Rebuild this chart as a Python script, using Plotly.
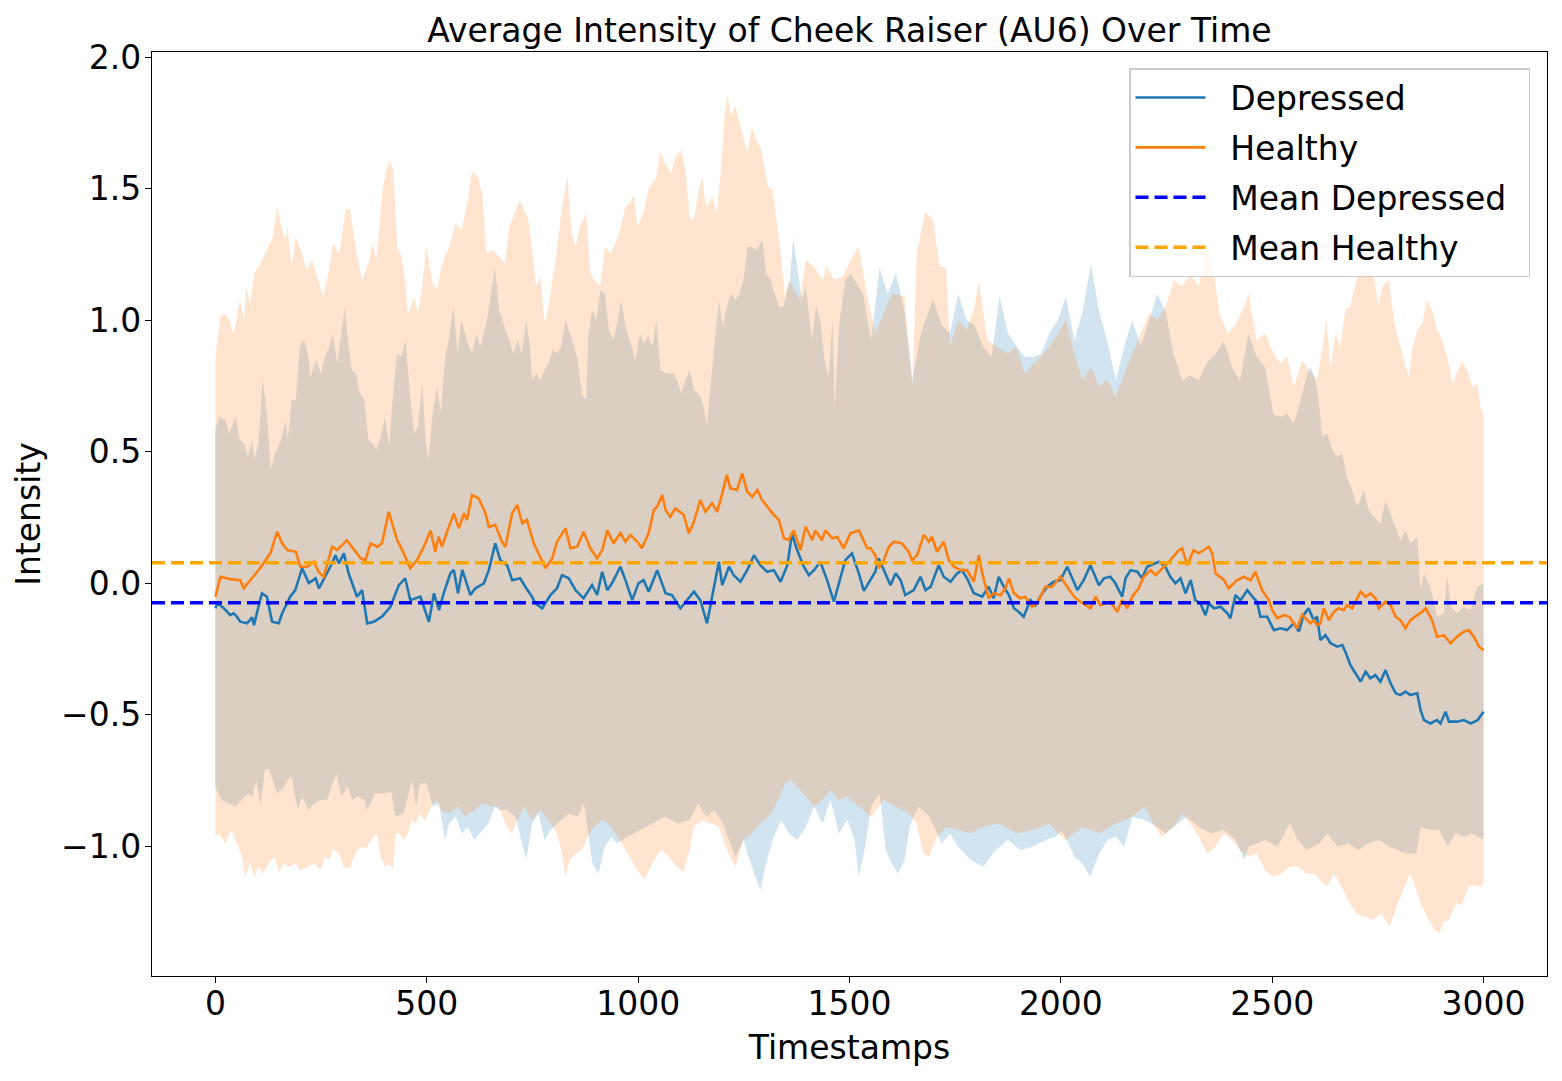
import plotly.graph_objects as go

# ---------------- data ----------------
dep_t = [0,5,20,35,43,51,59,75,87,91,110,122,134,150,158,177,189,205,221,237,245,264,276,284,292,304,315,335,347,359,375,394,414,434,449,461,485,493,505,517,529,540,556,564,574,584,603,615,635,647,662,674,690,702,721,733,749,757,773,793,808,820,836,852,871,891,903,915,927,938,958,970,986,1001,1013,1025,1037,1045,1065,1080,1100,1116,1132,1147,1163,1175,1191,1199,1215,1226,1242,1258,1274,1289,1305,1321,1337,1353,1364,1376,1392,1404,1416,1431,1447,1463,1475,1490,1506,1522,1534,1546,1561,1569,1585,1597,1609,1621,1632,1652,1668,1680,1692,1711,1723,1739,1755,1766,1778,1794,1814,1829,1841,1853,1865,1877,1889,1900,1912,1928,1940,1956,1968,1983,1999,2015,2027,2039,2054,2070,2090,2102,2117,2129,2145,2153,2165,2181,2192,2204,2232,2247,2259,2271,2283,2295,2307,2318,2330,2342,2350,2362,2378,2394,2401,2413,2425,2441,2453,2464,2472,2488,2504,2520,2535,2551,2563,2574,2586,2598,2606,2614,2626,2638,2654,2666,2673,2685,2697,2709,2721,2732,2744,2756,2768,2780,2792,2803,2815,2827,2843,2851,2859,2874,2890,2898,2910,2918,2937,2953,2970,2986,3000]
dep_mean = [-0.096,-0.077,-0.096,-0.122,-0.115,-0.128,-0.147,-0.153,-0.13,-0.16,-0.039,-0.052,-0.147,-0.153,-0.115,-0.052,-0.027,0.056,0.0,0.018,-0.02,0.038,0.075,0.106,0.075,0.113,0.037,-0.052,-0.027,-0.153,-0.147,-0.128,-0.09,-0.008,0.018,-0.065,-0.052,-0.09,-0.147,-0.039,-0.103,-0.039,0.037,0.05,-0.039,0.05,-0.045,-0.02,-0.001,0.05,0.151,0.087,0.068,0.011,0.018,-0.014,-0.052,-0.077,-0.096,-0.045,-0.02,0.03,0.018,-0.027,-0.058,-0.008,-0.045,0.043,-0.027,-0.001,0.062,0.011,-0.065,0.0,0.011,-0.033,0.018,0.049,-0.039,-0.046,-0.096,-0.065,-0.033,-0.065,-0.153,-0.052,0.081,-0.008,0.062,0.03,0.005,0.049,0.106,0.068,0.043,0.049,0.005,0.068,0.189,0.125,0.062,0.03,0.049,0.081,0.011,-0.071,-0.001,0.087,0.113,0.037,-0.03,0.005,0.043,0.094,0.037,-0.008,0.037,0.011,-0.046,-0.027,0.024,-0.027,-0.014,0.068,0.024,0.005,0.037,0.049,0.018,-0.039,-0.052,-0.014,-0.058,0.024,-0.014,-0.046,-0.096,-0.109,-0.128,-0.065,-0.084,-0.039,-0.014,0.005,0.011,0.062,0.018,-0.027,0.011,0.068,-0.008,0.018,0.024,-0.001,-0.052,0.018,0.049,0.043,0.018,0.062,0.081,0.062,0.024,-0.001,0.018,-0.039,0.011,-0.065,-0.077,-0.122,-0.077,-0.096,-0.09,-0.115,-0.134,-0.046,-0.065,-0.027,-0.052,-0.071,-0.128,-0.128,-0.179,-0.172,-0.179,-0.153,-0.185,-0.122,-0.096,-0.141,-0.128,-0.217,-0.198,-0.229,-0.242,-0.236,-0.261,-0.312,-0.343,-0.375,-0.337,-0.362,-0.35,-0.375,-0.331,-0.381,-0.419,-0.426,-0.413,-0.426,-0.419,-0.483,-0.521,-0.534,-0.521,-0.534,-0.489,-0.527,-0.527,-0.521,-0.534,-0.521,-0.489]

hea_t = [0,12,35,59,67,83,106,130,146,158,170,190,201,217,233,244,256,276,288,311,323,343,355,367,383,394,410,430,442,461,477,493,509,520,528,536,548,564,576,588,595,607,623,639,647,662,678,686,702,714,726,737,753,769,781,797,808,828,840,856,871,887,903,915,927,942,958,970,982,998,1009,1025,1037,1045,1057,1065,1076,1088,1108,1120,1132,1147,1159,1175,1187,1199,1210,1218,1234,1246,1258,1270,1282,1293,1309,1321,1333,1345,1356,1368,1384,1396,1412,1419,1435,1443,1459,1471,1486,1502,1522,1542,1550,1561,1569,1581,1593,1605,1624,1640,1648,1660,1676,1688,1695,1707,1723,1735,1747,1763,1778,1794,1806,1814,1829,1841,1857,1869,1877,1889,1904,1916,1932,1944,1963,1979,1999,2015,2031,2046,2062,2070,2082,2094,2117,2133,2145,2157,2169,2184,2196,2212,2224,2243,2259,2279,2287,2299,2314,2326,2338,2350,2358,2366,2386,2397,2417,2433,2449,2460,2476,2492,2500,2512,2528,2540,2559,2571,2590,2598,2606,2614,2622,2634,2646,2657,2669,2677,2689,2709,2721,2732,2744,2752,2768,2780,2792,2803,2815,2827,2843,2855,2863,2878,2890,2906,2922,2937,2953,2965,2977,2989,3000]
hea_mean = [-0.052,0.024,0.015,0.011,-0.02,0.011,0.057,0.113,0.195,0.151,0.125,0.119,0.062,0.062,0.081,0.043,0.024,0.138,0.125,0.163,0.138,0.095,0.087,0.15,0.138,0.151,0.271,0.163,0.125,0.056,0.087,0.138,0.2,0.119,0.176,0.138,0.195,0.265,0.208,0.265,0.24,0.335,0.322,0.265,0.214,0.221,0.157,0.138,0.265,0.297,0.227,0.24,0.151,0.1,0.056,0.094,0.157,0.208,0.132,0.138,0.195,0.132,0.094,0.125,0.2,0.151,0.19,0.157,0.183,0.157,0.132,0.19,0.278,0.29,0.335,0.278,0.252,0.284,0.259,0.189,0.233,0.316,0.271,0.303,0.271,0.341,0.411,0.36,0.354,0.417,0.347,0.328,0.354,0.316,0.284,0.259,0.24,0.17,0.163,0.2,0.125,0.214,0.163,0.2,0.163,0.2,0.17,0.176,0.132,0.189,0.2,0.132,0.132,0.106,0.056,0.087,0.138,0.157,0.151,0.119,0.087,0.106,0.183,0.157,0.176,0.119,0.157,0.087,0.062,0.049,0.049,0.005,0.106,0.037,-0.058,-0.039,-0.046,-0.02,0.018,-0.039,-0.058,-0.052,-0.09,-0.077,-0.014,-0.014,0.024,-0.014,-0.052,-0.071,-0.09,-0.096,-0.052,-0.084,-0.071,-0.109,-0.065,-0.096,-0.052,-0.02,0.024,0.049,0.03,0.062,0.087,0.125,0.132,0.068,0.125,0.113,0.125,0.138,0.113,0.037,0.011,-0.02,0.011,0.024,0.011,0.043,-0.027,-0.065,-0.103,-0.134,-0.122,-0.128,-0.172,-0.12,-0.153,-0.141,-0.16,-0.153,-0.096,-0.141,-0.109,-0.096,-0.103,-0.084,-0.096,-0.033,-0.052,-0.039,-0.058,-0.096,-0.071,-0.084,-0.128,-0.141,-0.172,-0.141,-0.122,-0.109,-0.096,-0.141,-0.204,-0.198,-0.229,-0.204,-0.185,-0.179,-0.204,-0.242,-0.255]

# band edges (mean +/- std)
dep_up_t = [0,9,23,33,48,58,68,77,87,92,102,112,122,131,141,156,166,171,180,190,200,210,220,224,239,249,259,269,278,288,298,306,313,323,332,342,352,362,372,381,391,401,411,421,430,440,450,460,470,479,489,499,504,514,524,533,543,553,563,573,582,597,607,617,627,641,651,661,671,681,695,705,715,725,735,744,749,759,769,779,788,798,808,818,828,838,847,857,867,877,882,891,901,911,921,931,941,950,960,970,985,994,1004,1014,1024,1034,1043,1053,1068,1083,1092,1102,1112,1122,1132,1142,1151,1163,1171,1181,1191,1200,1210,1220,1230,1240,1249,1259,1269,1279,1294,1303,1313,1323,1333,1343,1352,1359,1367,1377,1387,1397,1411,1421,1431,1441,1450,1460,1465,1475,1490,1502,1532,1551,1571,1590,1610,1630,1649,1669,1698,1718,1738,1757,1777,1796,1816,1836,1855,1875,1895,1914,1934,1953,1973,1993,2012,2032,2051,2071,2091,2110,2130,2150,2169,2189,2208,2228,2248,2267,2287,2306,2326,2346,2365,2385,2405,2424,2444,2463,2483,2503,2520,2535,2551,2567,2583,2591,2602,2610,2618,2630,2642,2654,2665,2677,2689,2701,2717,2728,2740,2756,2768,2780,2792,2803,2815,2827,2843,2851,2859,2874,2890,2906,2914,2922,2937,2953,2969,2985,2993,3000]
dep_up = [0.582,0.632,0.62,0.569,0.632,0.544,0.531,0.48,0.544,0.468,0.531,0.772,0.645,0.43,0.493,0.544,0.62,0.544,0.696,0.696,0.899,0.924,0.86,0.784,0.848,0.797,0.86,0.899,0.949,0.835,0.949,1.051,0.924,0.81,0.797,0.721,0.696,0.544,0.531,0.506,0.556,0.632,0.518,0.734,0.873,0.86,0.924,0.721,0.569,0.594,0.759,0.518,0.468,0.645,0.746,0.645,0.848,0.937,1.051,0.873,1.0,0.911,0.873,0.949,0.899,0.987,1.089,1.203,1.038,0.987,0.924,0.873,0.924,0.873,1.0,0.899,0.772,0.797,0.772,0.81,0.835,0.886,0.873,0.899,1.0,0.949,0.911,0.848,0.721,0.696,0.937,1.038,1.0,1.114,1.101,0.962,0.924,0.987,1.076,0.975,0.899,0.848,0.949,0.911,0.937,0.899,1.0,0.81,0.797,0.797,0.772,0.721,0.772,0.81,0.734,0.721,0.696,0.607,0.746,0.899,1.076,0.975,1.051,1.101,1.076,1.101,1.152,1.279,1.279,1.266,1.304,1.177,1.152,1.101,1.051,1.051,1.114,1.152,1.317,1.203,1.076,1.127,0.924,1.051,1.0,0.848,0.784,1.0,0.658,0.975,1.152,1.177,1.10,0.92,1.20,1.10,1.18,1.03,0.77,0.95,1.08,0.98,0.95,1.10,1.00,0.98,0.90,0.86,1.09,0.95,0.90,0.86,0.86,0.87,0.95,1.00,1.09,0.92,1.03,1.21,1.03,0.92,0.77,0.90,1.00,0.90,1.00,1.10,1.03,0.87,0.77,0.79,0.77,0.84,0.87,0.92,0.82,0.77,0.95,0.86,0.82,0.64,0.632,0.645,0.607,0.696,0.797,0.823,0.772,0.696,0.556,0.569,0.506,0.48,0.493,0.404,0.354,0.29,0.354,0.278,0.252,0.227,0.316,0.265,0.214,0.163,0.2,0.151,0.176,-0.027,0.037,-0.014,-0.128,-0.115,0.03,-0.09,-0.115,-0.09,-0.103,-0.014,-0.008,-0.001]

dep_lo_t = [0,14,33,48,63,77,87,97,107,117,126,136,146,161,171,180,195,205,220,234,249,264,278,286,298,313,323,337,352,357,367,377,396,416,426,445,465,475,484,499,514,529,543,553,568,583,597,612,632,646,661,671,690,710,735,749,764,779,793,818,838,857,872,892,906,921,936,950,975,1004,1034,1063,1092,1122,1142,1161,1181,1200,1230,1249,1269,1289,1303,1318,1338,1357,1377,1397,1416,1436,1455,1475,1495,1512,1522,1537,1551,1571,1586,1600,1615,1630,1644,1664,1689,1718,1738,1757,1787,1816,1846,1875,1904,1934,1963,1988,2002,2032,2051,2069,2091,2110,2130,2150,2169,2199,2228,2248,2277,2297,2326,2356,2385,2414,2434,2444,2483,2512,2542,2561,2581,2611,2630,2655,2679,2704,2728,2753,2777,2797,2816,2841,2851,2875,2895,2915,2934,2954,2973,3000]
dep_lo = [-0.774,-0.825,-0.838,-0.85,-0.825,-0.8,-0.812,-0.749,-0.85,-0.711,-0.705,-0.749,-0.8,-0.781,-0.749,-0.736,-0.863,-0.812,-0.863,-0.838,-0.825,-0.825,-0.762,-0.724,-0.812,-0.774,-0.825,-0.812,-0.825,-0.863,-0.838,-0.8,-0.8,-0.793,-0.889,-0.876,-0.749,-0.85,-0.762,-0.762,-0.85,-0.838,-0.977,-0.914,-0.889,-0.952,-0.927,-0.977,-0.939,-0.914,-0.85,-0.863,-0.863,-0.889,-1.053,-0.914,-0.876,-0.977,-0.939,-0.901,-0.876,-0.889,-0.838,-1.066,-1.104,-1.003,-0.965,-0.99,-0.965,-0.939,-0.914,-0.889,-0.914,-0.901,-0.838,-0.889,-0.863,-0.914,-1.041,-0.977,-1.079,-1.167,-1.066,-0.977,-0.901,-0.952,-0.977,-0.927,-0.85,-0.914,-0.825,-0.952,-0.901,-0.977,-1.117,-1.003,-0.85,-0.8,-1.015,-1.066,-1.104,-1.053,-0.914,-0.85,-0.889,-0.99,-0.952,-1.003,-1.053,-1.079,-1.015,-0.977,-1.015,-1.003,-0.977,-0.965,-0.939,-1.041,-1.066,-1.117,-1.028,-0.977,-0.965,-1.003,-0.889,-0.901,-0.927,-0.952,-0.914,-0.889,-0.927,-0.952,-0.939,-0.977,-1.053,-1.003,-0.977,-1.003,-0.914,-0.977,-1.015,-0.99,-0.952,-1.003,-0.99,-1.015,-0.99,-0.977,-1.003,-1.015,-1.028,-1.028,-0.927,-0.939,-0.939,-1.003,-0.952,-0.965,-0.952,-0.977]

hea_up_t = [0,12,23,33,43,58,68,72,82,92,107,122,136,146,156,166,171,180,190,205,215,229,239,254,264,278,293,308,318,327,337,347,362,372,381,396,411,421,430,440,450,455,470,479,489,499,514,524,533,543,553,568,582,597,607,622,632,641,656,671,685,695,710,720,730,739,749,759,769,779,788,798,808,818,833,842,852,862,877,887,896,911,921,936,955,970,980,990,999,1014,1024,1034,1043,1053,1063,1078,1088,1102,1112,1122,1132,1142,1151,1161,1176,1186,1195,1205,1212,1220,1230,1240,1259,1269,1279,1289,1298,1308,1318,1328,1338,1347,1357,1382,1397,1416,1436,1446,1465,1485,1502,1522,1541,1561,1581,1600,1630,1649,1659,1679,1698,1713,1728,1738,1757,1777,1796,1806,1826,1846,1875,1895,1914,1934,1953,1973,1993,2012,2032,2051,2071,2091,2110,2130,2150,2169,2189,2208,2228,2248,2267,2287,2306,2326,2346,2356,2375,2395,2414,2434,2444,2463,2483,2503,2520,2535,2551,2571,2587,2606,2618,2628,2638,2650,2661,2673,2685,2697,2709,2725,2740,2752,2760,2776,2788,2799,2815,2823,2831,2843,2855,2866,2878,2890,2902,2914,2926,2937,2949,2961,2973,2985,2993,3000]
hea_up = [0.86,1.013,1.025,1.0,0.949,1.076,1.0,1.127,1.063,1.177,1.215,1.266,1.317,1.431,1.355,1.304,1.355,1.203,1.317,1.253,1.19,1.228,1.177,1.089,1.152,1.291,1.253,1.418,1.424,1.329,1.228,1.152,1.215,1.291,1.228,1.507,1.608,1.57,1.279,1.241,1.139,1.025,1.089,1.025,1.127,1.279,1.139,1.114,1.19,1.241,1.279,1.367,1.342,1.456,1.564,1.545,1.469,1.253,1.266,1.241,1.215,1.355,1.418,1.456,1.418,1.393,1.279,1.127,1.165,0.987,1.051,1.152,1.266,1.405,1.545,1.342,1.279,1.355,1.405,1.177,1.152,1.127,1.279,1.253,1.329,1.431,1.443,1.475,1.355,1.418,1.494,1.52,1.545,1.646,1.596,1.558,1.621,1.646,1.57,1.393,1.38,1.482,1.545,1.431,1.469,1.405,1.558,1.786,1.855,1.773,1.817,1.748,1.634,1.735,1.684,1.659,1.583,1.507,1.494,1.38,1.253,1.089,1.152,1.076,1.228,1.203,1.152,1.203,1.152,1.165,1.228,1.279,1.101,0.949,1.025,1.101,1.089,0.746,1.253,1.412,1.38,1.203,1.203,0.899,1.0,0.962,1.051,1.152,0.924,0.899,0.873,0.899,0.797,0.835,0.86,0.899,0.949,1.0,0.873,0.772,0.822,0.746,0.772,0.708,0.797,0.873,0.949,1.025,1.0,1.051,1.152,1.127,1.177,1.127,1.279,1.253,1.025,0.949,0.987,1.051,1.101,0.924,0.949,0.873,0.835,0.86,0.746,0.848,0.81,0.772,0.886,1.006,0.823,0.949,0.899,1.038,1.051,1.14,1.19,1.178,1.165,1.051,1.127,1.152,1.0,0.924,0.823,0.784,0.886,0.962,0.987,1.076,1.038,0.962,0.924,0.86,0.759,0.797,0.842,0.81,0.746,0.759,0.67,0.632]

hea_lo_t = [0,9,23,38,53,63,70,82,92,102,112,122,131,141,151,161,175,190,200,220,234,249,259,269,278,293,303,318,327,337,347,357,367,381,391,401,411,421,426,435,445,455,465,475,484,494,504,514,524,533,553,573,592,612,632,651,671,686,700,715,730,749,769,788,808,818,828,838,852,867,877,896,916,936,955,975,994,1014,1034,1053,1073,1092,1107,1122,1132,1151,1171,1191,1210,1230,1249,1269,1289,1308,1328,1347,1362,1377,1397,1416,1436,1455,1475,1495,1522,1551,1581,1610,1640,1659,1674,1689,1703,1728,1757,1787,1816,1855,1895,1934,1973,1993,2012,2051,2091,2130,2154,2179,2199,2218,2238,2267,2287,2306,2326,2346,2365,2385,2405,2424,2444,2463,2483,2503,2522,2542,2561,2581,2601,2620,2630,2645,2660,2679,2699,2718,2738,2758,2777,2797,2816,2826,2836,2851,2866,2885,2895,2905,2919,2934,2949,2964,2978,2993,3000]
hea_lo = [-0.965,-0.952,-0.99,-0.939,-1.003,-1.041,-1.117,-1.066,-1.117,-1.079,-1.104,-1.079,-1.053,-1.041,-1.104,-1.066,-1.079,-1.066,-1.091,-1.079,-1.066,-1.091,-1.041,-1.053,-1.009,-1.028,-1.079,-1.085,-1.041,-1.015,-1.003,-1.009,-0.977,-0.952,-1.041,-1.079,-1.066,-1.091,-0.952,-0.952,-0.977,-0.952,-0.901,-0.914,-0.876,-0.901,-0.876,-0.838,-0.825,-0.863,-0.876,-0.85,-0.889,-0.863,-0.838,-0.85,-0.85,-0.914,-0.952,-0.901,-0.85,-0.901,-0.863,-0.901,-0.952,-1.015,-1.117,-1.053,-1.028,-1.015,-0.977,-0.927,-0.901,-0.927,-0.977,-1.028,-1.079,-1.129,-1.066,-1.015,-1.041,-1.079,-1.098,-1.015,-0.927,-0.901,-0.914,-0.927,-1.015,-1.079,-0.977,-0.952,-0.914,-0.889,-0.838,-0.762,-0.749,-0.774,-0.812,-0.85,-0.825,-0.787,-0.825,-0.812,-0.85,-0.889,-0.825,-0.85,-0.876,-0.914,-1.028,-1.041,-0.977,-0.927,-0.939,-0.952,-0.927,-0.914,-0.952,-0.939,-0.914,-0.952,-0.977,-0.927,-0.952,-0.914,-0.901,-0.876,-0.85,-0.914,-0.965,-0.927,-0.876,-0.914,-0.965,-1.028,-1.003,-0.952,-0.977,-1.015,-1.041,-1.028,-1.091,-1.117,-1.104,-1.079,-1.079,-1.104,-1.104,-1.142,-1.155,-1.104,-1.142,-1.205,-1.256,-1.269,-1.281,-1.256,-1.307,-1.218,-1.142,-1.104,-1.142,-1.218,-1.269,-1.319,-1.332,-1.288,-1.281,-1.218,-1.224,-1.155,-1.148,-1.155,-1.142]

dep_overall_mean = -0.075
hea_overall_mean = 0.077

x_range = [-150, 3150]
y_range = [-1.494, 2.019]
x_ticks = [0, 500, 1000, 1500, 2000, 2500, 3000]
y_ticks = [-1.0, -0.5, 0.0, 0.5, 1.0, 1.5, 2.0]

title_text = "Average Intensity of Cheek Raiser (AU6) Over Time"
x_label = "Timestamps"
y_label = "Intensity"
legend_names = ["Depressed", "Healthy", "Mean Depressed", "Mean Healthy"]

# ---------------- figure ----------------
FONT = "DejaVu Sans"
FS = 33
LEAD = "\u2002\u200a"        # gap between legend line sample and its text
TAIL = "\u00a0\u2009"        # right padding inside the legend box


def band_polygon(up_t, up, lo_t, lo):
    return list(up_t) + list(reversed(lo_t)), list(up) + list(reversed(lo))


fig = go.Figure()

bx, by = band_polygon(dep_up_t, dep_up, dep_lo_t, dep_lo)
fig.add_trace(go.Scatter(x=bx, y=by, fill="toself", mode="lines",
                         line=dict(width=0), fillcolor="rgba(31,119,180,0.2)",
                         hoverinfo="skip", showlegend=False))
bx, by = band_polygon(hea_up_t, hea_up, hea_lo_t, hea_lo)
fig.add_trace(go.Scatter(x=bx, y=by, fill="toself", mode="lines",
                         line=dict(width=0), fillcolor="rgba(255,127,14,0.2)",
                         hoverinfo="skip", showlegend=False))

fig.add_trace(go.Scatter(x=dep_t, y=dep_mean, mode="lines",
                         name=LEAD + legend_names[0] + TAIL,
                         legendgroup="a", line=dict(color="#1f77b4", width=2.6)))
fig.add_trace(go.Scatter(x=hea_t, y=hea_mean, mode="lines",
                         name=LEAD + legend_names[1] + TAIL,
                         legendgroup="b", line=dict(color="#ff7f0e", width=2.6)))
fig.add_trace(go.Scatter(x=x_range, y=[dep_overall_mean] * 2, mode="lines",
                         name=LEAD + legend_names[2] + TAIL, legendgroup="c",
                         line=dict(color="#0000ff", width=3.5, dash="13px,6px")))
fig.add_trace(go.Scatter(x=x_range, y=[hea_overall_mean] * 2, mode="lines",
                         name=LEAD + legend_names[3] + TAIL, legendgroup="d",
                         line=dict(color="#ffa500", width=3.5, dash="13px,6px")))

axis_common = dict(showgrid=False, zeroline=False, showline=True, mirror=True,
                   linecolor="black", linewidth=1.4, ticks="outside",
                   ticklen=6, tickwidth=1.4, tickcolor="black",
                   tickfont=dict(family=FONT, size=FS, color="black"))

# page body adds an 8px offset; margins compensate so the plot area lands
# at x 152..1547, y 52..976 in the screenshot
ML, MT, PW, PH = 144, 44, 1395, 924
fig.update_layout(
    width=1562, height=1081,
    margin=dict(l=ML, r=1562 - ML - PW, t=MT, b=1081 - MT - PH),
    paper_bgcolor="white", plot_bgcolor="white",
    font=dict(family=FONT, size=FS, color="black"),
    title=dict(text=title_text, x=(ML + PW / 2) / 1562, xanchor="center",
               yref="container", y=1 - 22 / 1081, yanchor="middle",
               font=dict(family=FONT, size=FS, color="black")),
    xaxis=dict(range=x_range, tickvals=x_ticks, ticklabelstandoff=-8,
               title=dict(text=x_label, standoff=14,
                          font=dict(family=FONT, size=FS, color="black")),
               **axis_common),
    yaxis=dict(range=y_range, tickvals=y_ticks, tickformat=".1f",
               ticklabelstandoff=-3,
               title=dict(text=y_label, standoff=10,
                          font=dict(family=FONT, size=FS, color="black")),
               **axis_common),
    legend=dict(x=(1530 - 152) / PW, y=(976 - 68) / PH,
                xanchor="right", yanchor="top",
                bgcolor="rgba(255,255,255,0.8)", bordercolor="#cccccc",
                borderwidth=1.5, font=dict(family=FONT, size=FS, color="black"),
                itemwidth=70, traceorder="grouped", tracegroupgap=4),
    showlegend=True,
)

fig.write_html("out.html")
